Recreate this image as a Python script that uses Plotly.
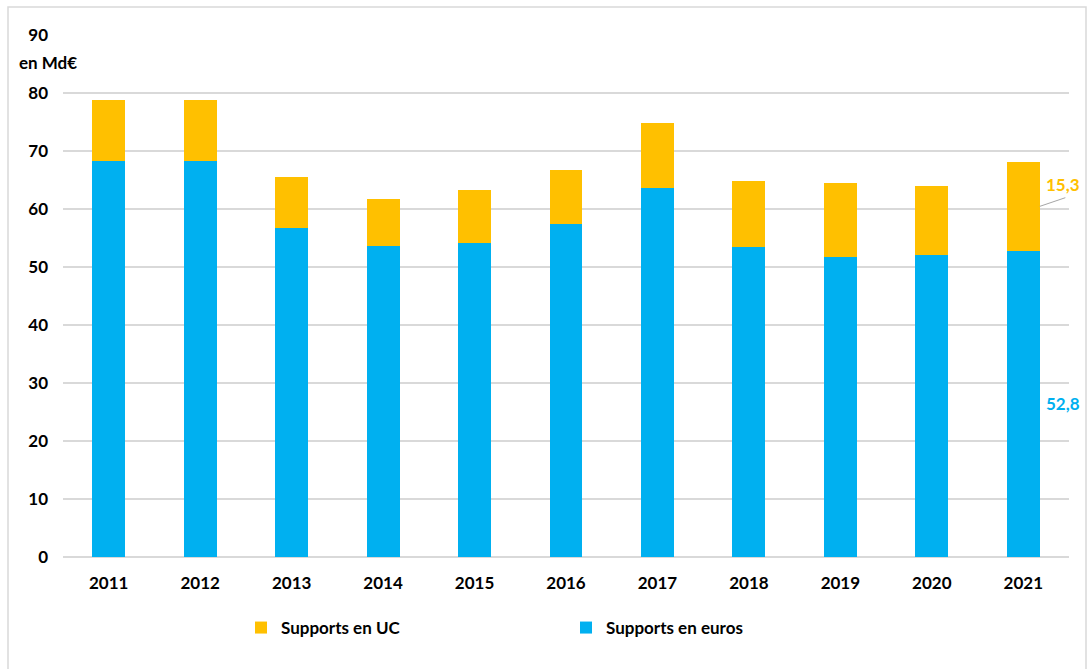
import plotly.graph_objects as go

years = ["2011", "2012", "2013", "2014", "2015", "2016", "2017", "2018", "2019", "2020", "2021"]
euros = [68.3, 68.3, 56.7, 53.6, 54.2, 57.4, 63.6, 53.5, 51.7, 52.0, 52.8]
uc = [10.5, 10.5, 8.9, 8.2, 9.0, 9.3, 11.2, 11.3, 12.7, 12.0, 15.3]
y_ticks = [0, 10, 20, 30, 40, 50, 60, 70, 80, 90]

BLUE = "#00B0F0"
ORANGE = "#FFC000"
FONT = "Lato"
PW, PH, L, T = 1006, 522, 63, 35

fig = go.Figure()
fig.add_trace(go.Bar(x=years, y=euros, name="Supports en euros", marker_color=BLUE,
                     marker_line_width=0, width=0.36))
fig.add_trace(go.Bar(x=years, y=uc, name="Supports en UC", marker_color=ORANGE,
                     marker_line_width=0, width=0.36))

last = len(years) - 1
fig.add_shape(type="line", xref="x", yref="y", x0=last + 0.18, y0=euros[-1] + uc[-1] / 2,
              x1=last + 0.46, y1=euros[-1] + uc[-1] / 2 + 1.5,
              line=dict(color="#a6a6a6", width=1))
fig.add_annotation(x=last + 0.43, y=euros[-1] + uc[-1] / 2 + 3.8, xref="x", yref="y",
                   text=f"{uc[-1]:.1f}".replace(".", ","), showarrow=False,
                   font=dict(family=FONT, size=17, color=ORANGE, weight="bold"))
fig.add_annotation(x=last + 0.43, y=euros[-1] / 2, xref="x", yref="y",
                   text=f"{euros[-1]:.1f}".replace(".", ","), showarrow=False,
                   font=dict(family=FONT, size=17, color=BLUE, weight="bold"))
fig.add_annotation(x=(48 - L) / PW, y=(557 - 62) / PH, xref="paper", yref="paper",
                   xanchor="center", yanchor="middle",
                   text="en Md€", showarrow=False,
                   font=dict(family=FONT, size=17, color="#000000", weight="bold"))
# outer frame
fig.add_shape(type="rect", xref="paper", yref="paper",
              x0=(8 - L) / PW, x1=(1086 - L) / PW, y0=-(690 - 557) / PH, y1=1 + (T - 7) / PH,
              line=dict(color="#d9d9d9", width=1.5))

fig.update_layout(
    barmode="stack",
    width=1088, height=669,
    margin=dict(l=L, r=19, t=T, b=112),
    plot_bgcolor="white", paper_bgcolor="white",
    font=dict(family=FONT, size=17, color="#000000"),
    showlegend=True,
    legend=dict(orientation="h", x=(241 - L) / PW, y=-(628 - 557) / PH, xanchor="left",
                yanchor="middle", traceorder="reversed", entrywidth=280,
                entrywidthmode="pixels", font=dict(family=FONT, size=17, weight="bold"),
                itemclick=False),
    xaxis=dict(range=[-0.5, len(years) - 0.5], tickfont=dict(family=FONT, size=17, weight="bold"),
               showgrid=False, showline=False, ticks="", ticklabelstandoff=14),
    yaxis=dict(range=[0, 90], tickvals=y_ticks, showgrid=True, gridcolor="#d9d9d9",
               gridwidth=1.5, zeroline=True, zerolinecolor="#d9d9d9", zerolinewidth=1.5,
               tickfont=dict(family=FONT, size=17, weight="bold"), ticks="",
               ticklabelstandoff=14),
)

fig.write_html("out.html")
